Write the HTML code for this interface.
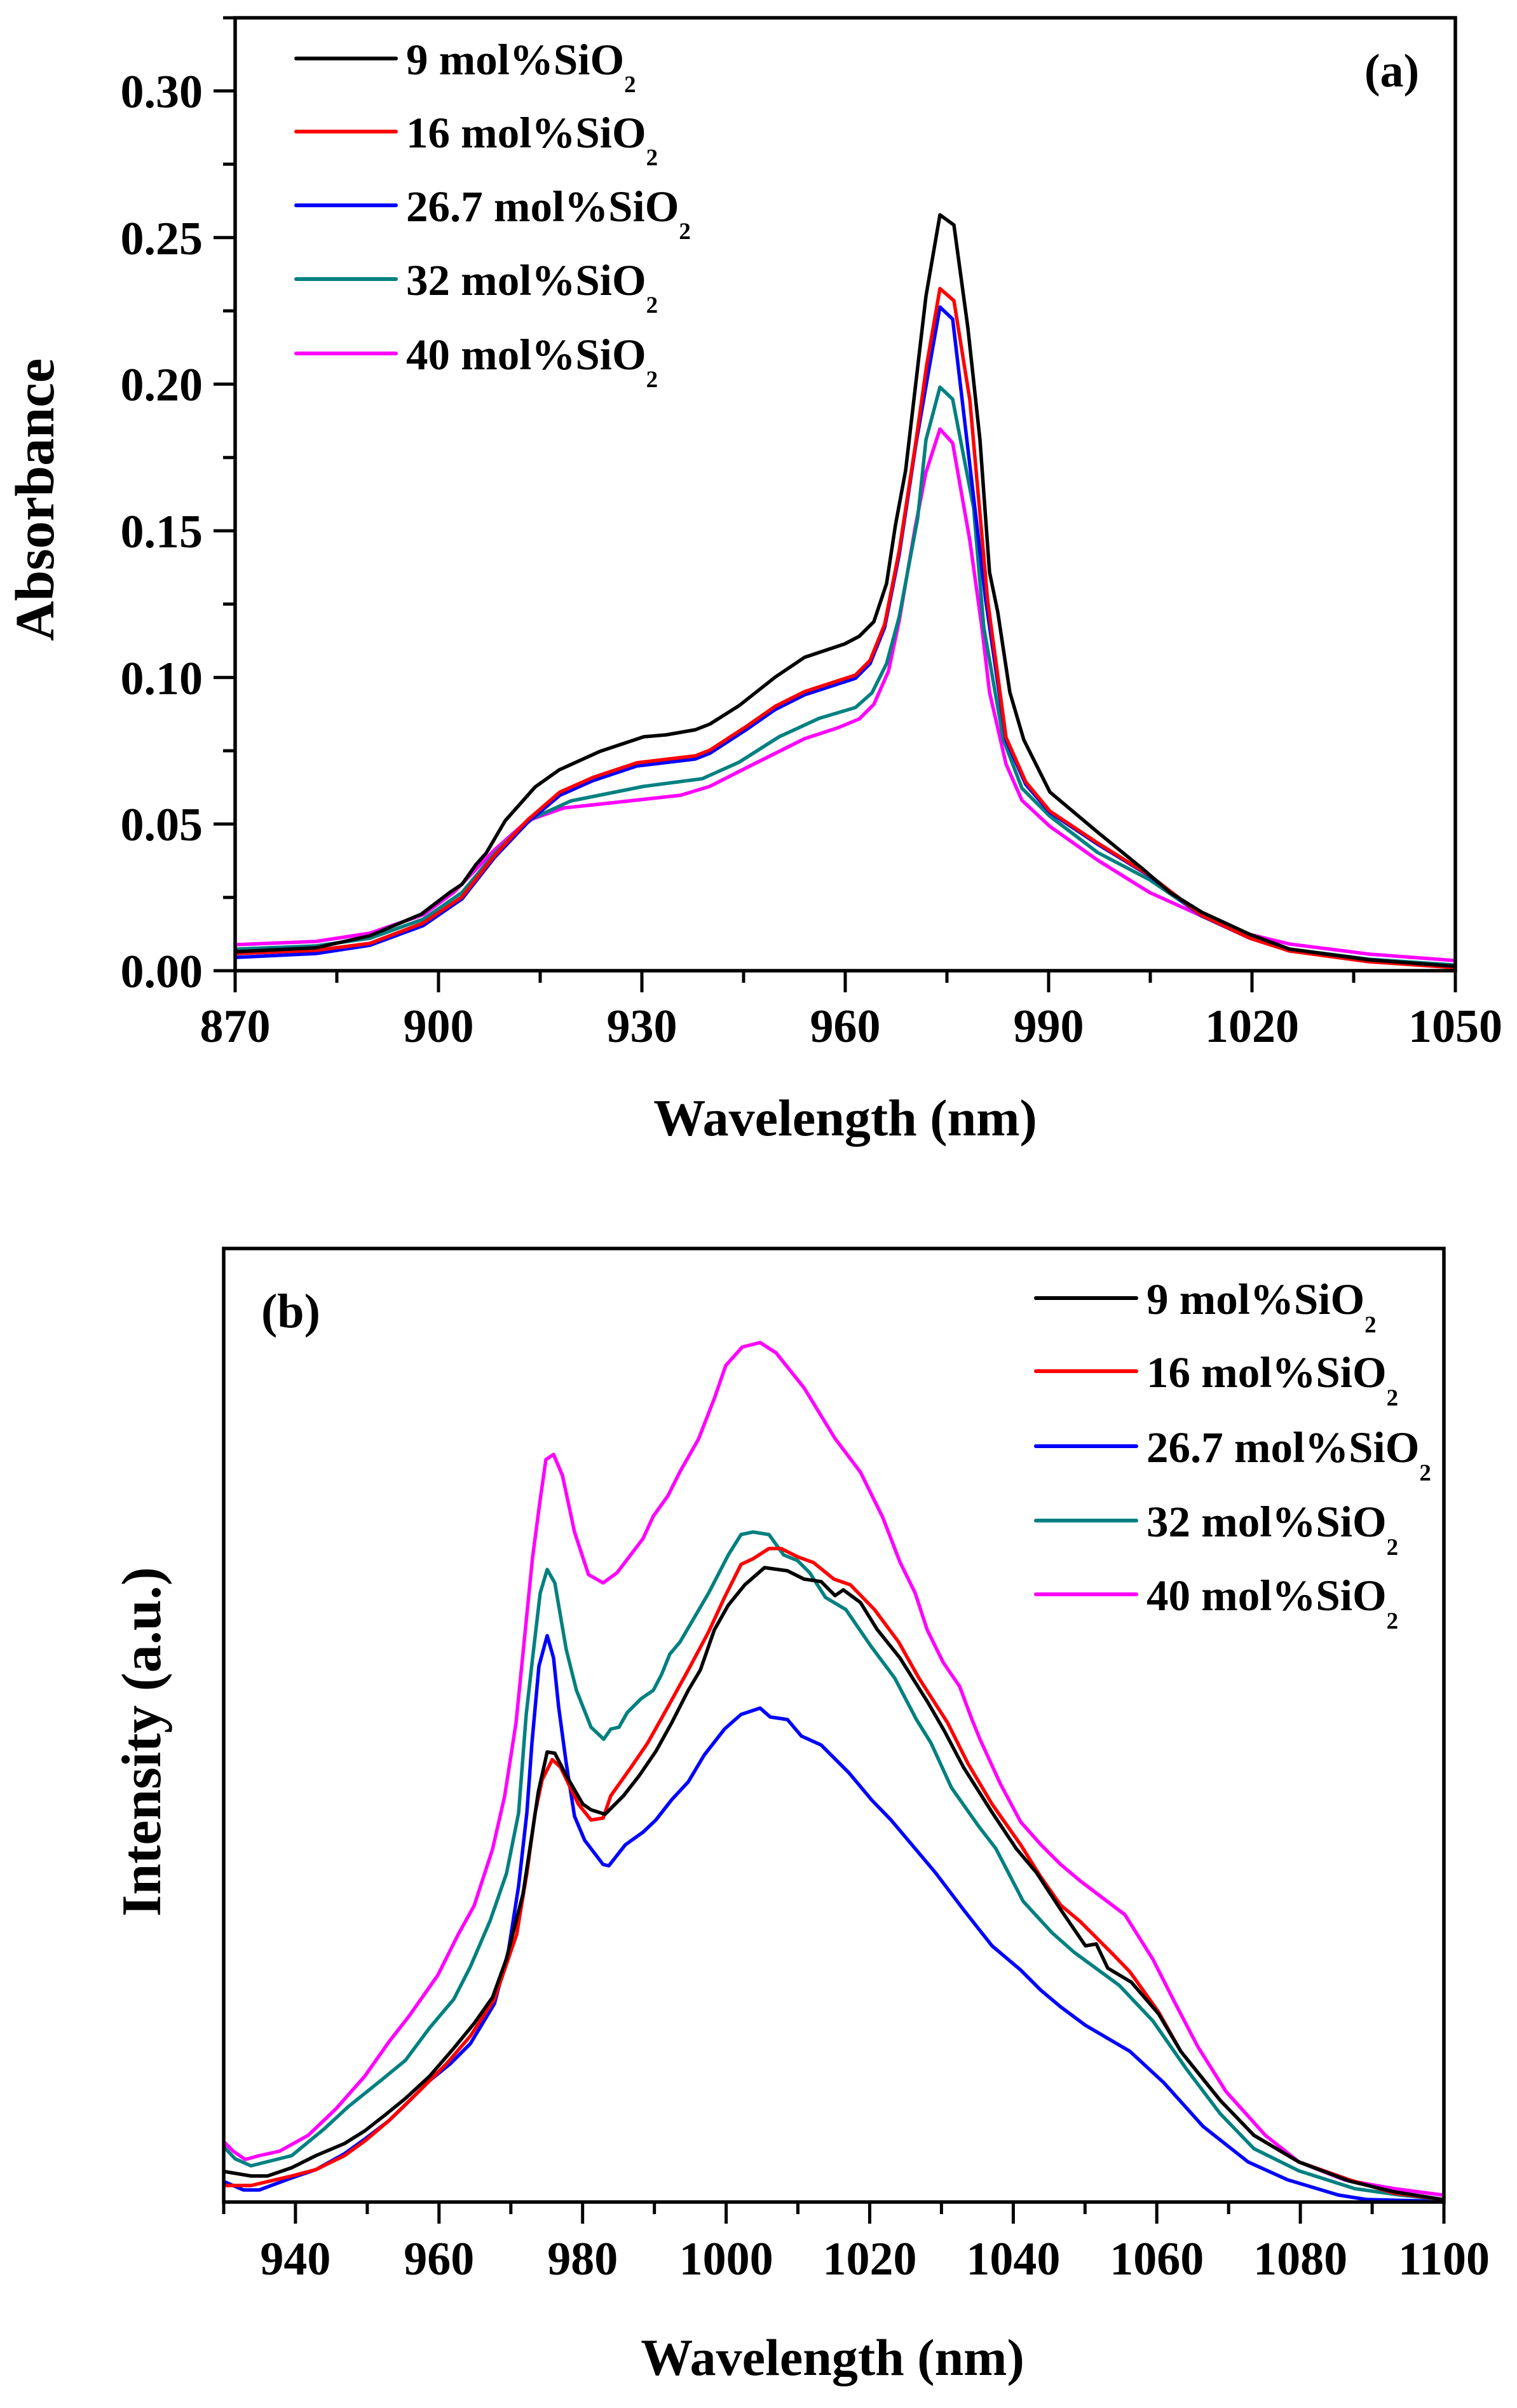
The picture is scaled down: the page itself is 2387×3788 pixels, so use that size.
<!DOCTYPE html>
<html>
<head>
<meta charset="utf-8">
<style>
  html, body { margin: 0; padding: 0; background: #fff; }
  svg { display: block; }
  text { font-family: "Liberation Serif", "Times New Roman", serif; font-weight: bold; fill: #000; }
</style>
</head>
<body>
<svg width="2387" height="3788" viewBox="0 0 2387 3788" xmlns="http://www.w3.org/2000/svg">
  <rect x="0" y="0" width="2387" height="3788" fill="#fff"/>

  <!-- ================= PANEL A ================= -->
  <g fill="none" stroke-linejoin="round" stroke-linecap="round" stroke-width="5.5">
    <!-- magenta -->
    <polyline stroke="#ff00ff" points="372,1486 497,1481 582,1468 666,1439 715,1403 778,1337 830,1291 887,1271 944,1265 1071,1251 1117,1237 1174,1208 1266,1162 1318,1145 1352,1131 1375,1108 1398,1056 1415,976 1440,830 1457,743 1479,675 1499,697 1526,850 1545,987 1557,1089 1583,1202 1608,1259 1652,1300 1727,1353 1809,1404 1891,1441 1967,1470 2029,1485 2155,1501 2288,1511"/>
    <!-- teal -->
    <polyline stroke="#008080" points="372,1493 497,1488 582,1476 666,1446 727,1404 778,1343 830,1291 898,1260 1013,1237 1105,1225 1163,1199 1226,1159 1289,1130 1346,1113 1372,1090 1395,1044 1415,970 1444,815 1457,692 1479,609 1499,628 1532,799 1548,987 1579,1164 1608,1240 1652,1284 1727,1341 1809,1384 1891,1440 1967,1474 2029,1493 2155,1509 2288,1518"/>
    <!-- blue -->
    <polyline stroke="#0000ff" points="372,1506 497,1500 582,1487 666,1456 727,1414 778,1349 830,1294 881,1251 933,1228 1002,1205 1094,1194 1117,1185 1174,1148 1220,1116 1266,1093 1346,1067 1369,1044 1392,987 1415,872 1441,700 1460,590 1479,483 1499,502 1551,944 1583,1164 1614,1234 1652,1278 1727,1328 1809,1378 1891,1441 1967,1476 2029,1495 2155,1511 2288,1520"/>
    <!-- red -->
    <polyline stroke="#ff0000" points="372,1500 497,1495 582,1484 666,1452 727,1411 778,1346 830,1290 881,1246 933,1223 1002,1200 1094,1189 1117,1180 1174,1143 1220,1111 1266,1088 1346,1062 1369,1039 1392,982 1415,866 1441,696 1458,575 1479,454 1501,473 1526,629 1554,944 1583,1160 1614,1230 1652,1276 1727,1326 1809,1377 1891,1440 1967,1476 2029,1496 2155,1513 2288,1522"/>
    <!-- black -->
    <polyline stroke="#000000" points="372,1497 497,1491 582,1472 663,1438 709,1403 727,1391 749,1360 765,1342 795,1291 842,1238 880,1211 944,1182 1013,1159 1048,1156 1094,1148 1117,1139 1163,1110 1220,1065 1266,1034 1329,1013 1352,1001 1375,978 1395,918 1409,826 1425,740 1457,466 1479,338 1501,354 1523,516 1542,692 1557,900 1570,963 1589,1089 1611,1164 1652,1246 1727,1309 1797,1366 1841,1404 1891,1435 1967,1470 2029,1493 2155,1510 2288,1520"/>
  </g>

  <!-- frame A -->
  <rect x="370" y="28" width="1920" height="1499" fill="none" stroke="#000" stroke-width="5.5"/>
  <g stroke="#000" stroke-width="5">
    <!-- x major -->
    <line x1="370" y1="1527" x2="370" y2="1561"/>
    <line x1="690" y1="1527" x2="690" y2="1561"/>
    <line x1="1010" y1="1527" x2="1010" y2="1561"/>
    <line x1="1330" y1="1527" x2="1330" y2="1561"/>
    <line x1="1650" y1="1527" x2="1650" y2="1561"/>
    <line x1="1970" y1="1527" x2="1970" y2="1561"/>
    <line x1="2290" y1="1527" x2="2290" y2="1561"/>
    <!-- x minor -->
    <line x1="530" y1="1527" x2="530" y2="1546"/>
    <line x1="850" y1="1527" x2="850" y2="1546"/>
    <line x1="1170" y1="1527" x2="1170" y2="1546"/>
    <line x1="1490" y1="1527" x2="1490" y2="1546"/>
    <line x1="1810" y1="1527" x2="1810" y2="1546"/>
    <line x1="2130" y1="1527" x2="2130" y2="1546"/>
    <!-- y major -->
    <line x1="336" y1="1527" x2="370" y2="1527"/>
    <line x1="336" y1="1296.3" x2="370" y2="1296.3"/>
    <line x1="336" y1="1065.7" x2="370" y2="1065.7"/>
    <line x1="336" y1="835" x2="370" y2="835"/>
    <line x1="336" y1="604.3" x2="370" y2="604.3"/>
    <line x1="336" y1="373.7" x2="370" y2="373.7"/>
    <line x1="336" y1="143" x2="370" y2="143"/>
    <!-- y minor -->
    <line x1="351" y1="1411.7" x2="370" y2="1411.7"/>
    <line x1="351" y1="1181" x2="370" y2="1181"/>
    <line x1="351" y1="950.3" x2="370" y2="950.3"/>
    <line x1="351" y1="719.7" x2="370" y2="719.7"/>
    <line x1="351" y1="489" x2="370" y2="489"/>
    <line x1="351" y1="258.3" x2="370" y2="258.3"/>
    <line x1="351" y1="28" x2="370" y2="28"/>
  </g>

  <!-- y tick labels A -->
  <g font-size="74" text-anchor="end">
    <text x="319" y="1553">0.00</text>
    <text x="319" y="1322">0.05</text>
    <text x="319" y="1092">0.10</text>
    <text x="319" y="861">0.15</text>
    <text x="319" y="630">0.20</text>
    <text x="319" y="400">0.25</text>
    <text x="319" y="169">0.30</text>
  </g>
  <!-- x tick labels A -->
  <g font-size="74" text-anchor="middle">
    <text x="370" y="1639">870</text>
    <text x="690" y="1639">900</text>
    <text x="1010" y="1639">930</text>
    <text x="1330" y="1639">960</text>
    <text x="1650" y="1639">990</text>
    <text x="1970" y="1639">1020</text>
    <text x="2290" y="1639">1050</text>
  </g>
  <text x="1330" y="1786" font-size="82" text-anchor="middle">Wavelength (nm)</text>
  <text transform="translate(84,786) rotate(-90)" font-size="87" text-anchor="middle">Absorbance</text>
  <text x="2190" y="136" font-size="74" text-anchor="middle">(a)</text>

  <!-- legend A -->
  <g stroke-width="6" stroke-linecap="round">
    <line x1="466" y1="92" x2="623" y2="92" stroke="#000000"/>
    <line x1="466" y1="207" x2="623" y2="207" stroke="#ff0000"/>
    <line x1="466" y1="323" x2="623" y2="323" stroke="#0000ff"/>
    <line x1="466" y1="439" x2="623" y2="439" stroke="#008080"/>
    <line x1="466" y1="556" x2="623" y2="556" stroke="#ff00ff"/>
  </g>
  <g font-size="69">
    <text x="639" y="117">9 mol%SiO<tspan font-size="37" dy="28">2</tspan></text>
    <text x="639" y="232">16 mol%SiO<tspan font-size="37" dy="28">2</tspan></text>
    <text x="639" y="348">26.7 mol%SiO<tspan font-size="37" dy="28">2</tspan></text>
    <text x="639" y="464">32 mol%SiO<tspan font-size="37" dy="28">2</tspan></text>
    <text x="639" y="581">40 mol%SiO<tspan font-size="37" dy="28">2</tspan></text>
  </g>

  <!-- ================= PANEL B ================= -->
  <g fill="none" stroke-linejoin="round" stroke-linecap="round" stroke-width="5.5">
    <!-- blue -->
    <polyline stroke="#0000ff" points="353,3432 383,3445 408,3445 459,3426 497,3413 542,3388 574,3365 612,3336 638,3311 676,3273 708,3247 740,3215 778,3152 800,3069 816,2967 829,2852 837,2742 848,2621 861,2573 871,2608 879,2685 891,2774 904,2857 920,2895 949,2933 958,2935 984,2902 1012,2882 1032,2863 1057,2831 1083,2803 1108,2761 1140,2720 1166,2697 1196,2687 1212,2701 1239,2705 1261,2731 1292,2745 1336,2789 1372,2832 1402,2863 1440,2908 1472,2946 1516,3004 1561,3061 1606,3099 1638,3131 1669,3157 1708,3186 1778,3227 1831,3276 1893,3345 1964,3401 2026,3429 2106,3453 2150,3460 2270,3463"/>
    <!-- magenta -->
    <polyline stroke="#ff00ff" points="353,3370 367,3384 386,3397 408,3391 440,3384 485,3359 529,3317 574,3266 612,3212 644,3171 689,3107 721,3043 746,2998 775,2909 794,2826 812,2710 826,2570 838,2450 850,2359 859,2296 871,2288 885,2321 904,2410 926,2477 949,2490 971,2474 1012,2420 1028,2385 1051,2353 1070,2315 1099,2264 1124,2200 1142,2148 1168,2119 1196,2112 1221,2128 1265,2183 1314,2263 1354,2316 1389,2387 1416,2457 1440,2506 1459,2564 1484,2615 1510,2653 1529,2704 1542,2736 1574,2806 1606,2866 1638,2902 1669,2933 1700,2959 1725,2978 1770,3012 1814,3082 1849,3151 1885,3220 1929,3290 1991,3359 2044,3401 2115,3429 2194,3443 2270,3453"/>
    <!-- teal -->
    <polyline stroke="#008080" points="353,3378 370,3396 395,3407 459,3391 510,3349 548,3314 599,3273 638,3241 676,3190 714,3145 740,3094 771,3022 797,2947 816,2852 828,2697 839,2600 850,2506 861,2469 873,2490 891,2595 907,2659 930,2717 950,2736 961,2720 974,2717 987,2694 1009,2672 1028,2659 1041,2634 1054,2602 1070,2583 1115,2506 1146,2446 1166,2414 1185,2410 1210,2414 1233,2446 1255,2455 1274,2474 1299,2513 1331,2532 1370,2589 1408,2640 1442,2705 1465,2742 1497,2812 1540,2873 1567,2908 1610,2991 1655,3040 1690,3071 1761,3123 1814,3179 1867,3255 1920,3325 1973,3380 2044,3415 2132,3443 2203,3453 2270,3460"/>
    <!-- red -->
    <polyline stroke="#ff0000" points="353,3438 395,3438 459,3423 497,3413 542,3391 574,3368 612,3336 657,3292 702,3247 740,3203 778,3145 813,3043 829,2947 842,2852 853,2800 869,2768 882,2780 910,2838 930,2863 949,2860 961,2825 993,2780 1019,2742 1051,2685 1083,2627 1115,2567 1140,2513 1166,2461 1185,2452 1210,2436 1229,2436 1255,2449 1280,2458 1312,2484 1338,2493 1376,2532 1414,2583 1446,2640 1491,2710 1523,2774 1561,2838 1606,2902 1638,2953 1669,2997 1700,3023 1752,3075 1778,3102 1823,3165 1858,3227 1920,3304 1973,3359 2044,3401 2123,3429 2194,3450 2270,3460"/>
    <!-- black -->
    <polyline stroke="#000000" points="353,3416 395,3423 421,3423 459,3410 497,3391 542,3372 574,3352 606,3327 638,3301 676,3266 714,3222 746,3183 775,3142 797,3081 823,2979 838,2880 847,2819 861,2756 873,2758 891,2793 917,2838 930,2847 952,2854 981,2825 1006,2793 1032,2755 1057,2710 1083,2659 1102,2627 1124,2564 1146,2525 1172,2493 1203,2466 1239,2471 1265,2484 1292,2488 1314,2510 1327,2501 1354,2521 1380,2563 1416,2608 1460,2678 1486,2723 1516,2780 1561,2851 1599,2908 1631,2946 1669,3004 1708,3061 1725,3058 1743,3096 1780,3118 1823,3168 1858,3227 1920,3304 1973,3359 2044,3401 2123,3431 2194,3448 2270,3460"/>
  </g>

  <!-- frame B -->
  <rect x="352" y="1964" width="1920" height="1500" fill="none" stroke="#000" stroke-width="5.5"/>
  <g stroke="#000" stroke-width="5">
    <!-- x major -->
    <line x1="464.9" y1="3464" x2="464.9" y2="3498"/>
    <line x1="690.8" y1="3464" x2="690.8" y2="3498"/>
    <line x1="916.7" y1="3464" x2="916.7" y2="3498"/>
    <line x1="1142.6" y1="3464" x2="1142.6" y2="3498"/>
    <line x1="1368.5" y1="3464" x2="1368.5" y2="3498"/>
    <line x1="1594.4" y1="3464" x2="1594.4" y2="3498"/>
    <line x1="1820.2" y1="3464" x2="1820.2" y2="3498"/>
    <line x1="2046.1" y1="3464" x2="2046.1" y2="3498"/>
    <line x1="2272" y1="3464" x2="2272" y2="3498"/>
    <!-- x minor -->
    <line x1="352" y1="3464" x2="352" y2="3483"/>
    <line x1="577.9" y1="3464" x2="577.9" y2="3483"/>
    <line x1="803.8" y1="3464" x2="803.8" y2="3483"/>
    <line x1="1029.7" y1="3464" x2="1029.7" y2="3483"/>
    <line x1="1255.5" y1="3464" x2="1255.5" y2="3483"/>
    <line x1="1481.4" y1="3464" x2="1481.4" y2="3483"/>
    <line x1="1707.3" y1="3464" x2="1707.3" y2="3483"/>
    <line x1="1933.2" y1="3464" x2="1933.2" y2="3483"/>
    <line x1="2159.1" y1="3464" x2="2159.1" y2="3483"/>
  </g>
  <g font-size="74" text-anchor="middle">
    <text x="464.9" y="3578">940</text>
    <text x="690.8" y="3578">960</text>
    <text x="916.7" y="3578">980</text>
    <text x="1142.6" y="3578">1000</text>
    <text x="1368.5" y="3578">1020</text>
    <text x="1594.4" y="3578">1040</text>
    <text x="1820.2" y="3578">1060</text>
    <text x="2046.1" y="3578">1080</text>
    <text x="2272" y="3578">1100</text>
  </g>
  <text x="1310" y="3736" font-size="82" text-anchor="middle">Wavelength (nm)</text>
  <text transform="translate(252,2740) rotate(-90)" font-size="88" text-anchor="middle">Intensity (a.u.)</text>
  <text x="411" y="2088" font-size="76">(b)</text>

  <!-- legend B -->
  <g stroke-width="6" stroke-linecap="round">
    <line x1="1630" y1="2042" x2="1788" y2="2042" stroke="#000000"/>
    <line x1="1630" y1="2157" x2="1788" y2="2157" stroke="#ff0000"/>
    <line x1="1630" y1="2275" x2="1788" y2="2275" stroke="#0000ff"/>
    <line x1="1630" y1="2392" x2="1788" y2="2392" stroke="#008080"/>
    <line x1="1630" y1="2508" x2="1788" y2="2508" stroke="#ff00ff"/>
  </g>
  <g font-size="69">
    <text x="1804" y="2067">9 mol%SiO<tspan font-size="37" dy="29">2</tspan></text>
    <text x="1804" y="2182">16 mol%SiO<tspan font-size="37" dy="29">2</tspan></text>
    <text x="1804" y="2300">26.7 mol%SiO<tspan font-size="37" dy="29">2</tspan></text>
    <text x="1804" y="2417">32 mol%SiO<tspan font-size="37" dy="29">2</tspan></text>
    <text x="1804" y="2533">40 mol%SiO<tspan font-size="37" dy="29">2</tspan></text>
  </g>
</svg>
</body>
</html>
